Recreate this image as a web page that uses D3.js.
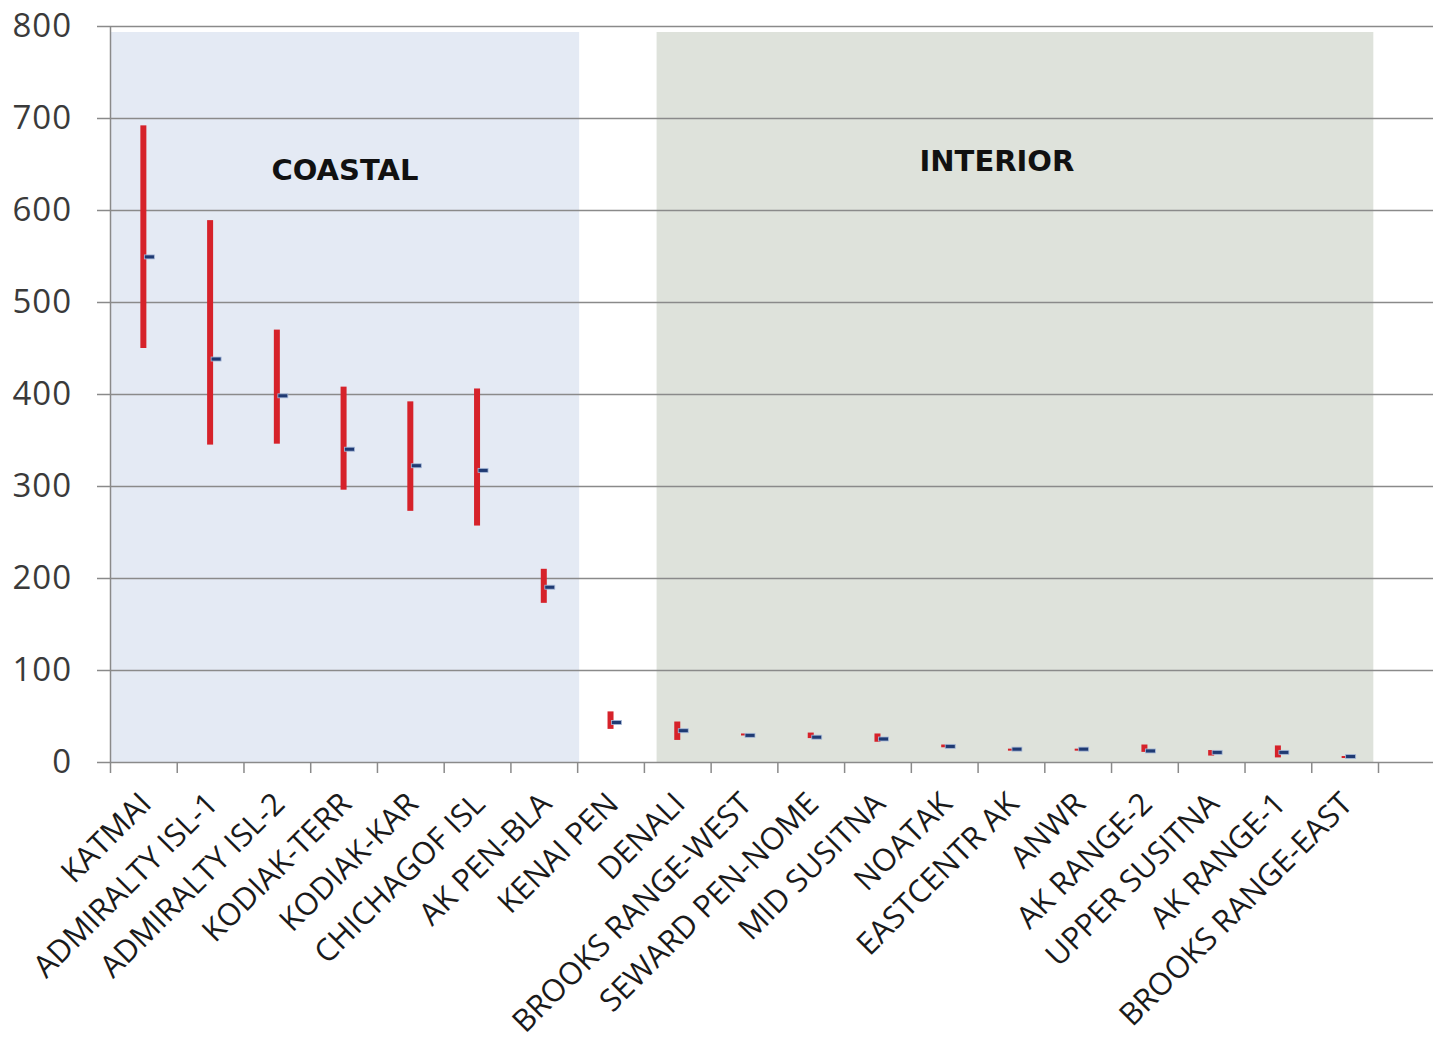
<!DOCTYPE html>
<html>
<head>
<meta charset="utf-8">
<script src="https://cdn.jsdelivr.net/npm/d3@7"></script>
<style>
  html, body { margin: 0; padding: 0; background: #ffffff; }
  svg { display: block; }
</style>
</head>
<body>
<svg id="chart" width="1441" height="1040"></svg>
<script>
// Study areas, ordered from highest to lowest mean
const categories = [
  "KATMAI", "ADMIRALTY ISL-1", "ADMIRALTY ISL-2", "KODIAK-TERR", "KODIAK-KAR",
  "CHICHAGOF ISL", "AK PEN-BLA", "KENAI PEN", "DENALI", "BROOKS RANGE-WEST",
  "SEWARD PEN-NOME", "MID SUSITNA", "NOATAK", "EASTCENTR AK", "ANWR",
  "AK RANGE-2", "UPPER SUSITNA", "AK RANGE-1", "BROOKS RANGE-EAST"
];

// Range (low / high) and mean per area
const lows  = [450, 345, 346, 296, 273, 257, 173, 36, 24, 29, 26, 22, 16, 13.5, 13.5, 11, 7, 5, 5.5];
const highs = [692, 589, 470, 408, 392, 406, 210, 55, 44, 31, 32, 31, 19, 14.5, 14.5, 19, 13, 18, 6.5];
const means = [549, 438, 398, 340, 322, 317, 190, 43, 34, 29, 27, 25, 17, 14, 14, 12, 10.5, 10.5, 6];

// Shaded groupings, spans in category units; label placement in category / value units
const groupNames  = ["COASTAL", "INTERIOR"];
const groupStarts = [0, 8.19];
const groupEnds   = [7.03, 18.93];
const groupLabelX = [3.52, 13.29];
const groupLabelY = [633, 642];

const yTicks = [0, 100, 200, 300, 400, 500, 600, 700, 800];

const svg = d3.select("#chart");

const plotLeft = 110, plotRight = 1378, plotTop = 26, plotBottom = 762;
const gridLeft = 97, gridRight = 1433;

const x = d3.scaleBand().domain(categories).range([plotLeft, plotRight]).padding(0);
const xi = d3.scaleLinear().domain([0, categories.length]).range([plotLeft, plotRight]);
const y = d3.scaleLinear().domain([0, 800]).range([plotBottom, plotTop]);

// Group backgrounds
const groupFills = ["#e4eaf4", "#dee2db"];
svg.append("g").selectAll("rect")
  .data(groupNames)
  .join("rect")
  .attr("x", (d, i) => xi(groupStarts[i]))
  .attr("y", y(793.5))
  .attr("width", (d, i) => xi(groupEnds[i]) - xi(groupStarts[i]))
  .attr("height", y(0) - y(793.5))
  .attr("fill", (d, i) => groupFills[i]);

// Horizontal gridlines
svg.append("g")
  .attr("transform", `translate(${gridLeft},0)`)
  .call(d3.axisRight(y).tickValues(yTicks).tickSize(gridRight - gridLeft).tickFormat(""))
  .call(g => g.select(".domain").remove())
  .call(g => g.selectAll(".tick line").attr("stroke", "#8a8a8a").attr("stroke-width", 1.5));

// Y axis
svg.append("g")
  .attr("transform", `translate(${plotLeft},0)`)
  .call(d3.axisLeft(y).tickValues(yTicks).tickSize(0).tickPadding(38))
  .call(g => g.select(".domain").attr("stroke", "#8a8a8a").attr("stroke-width", 1.5))
  .call(g => g.selectAll(".tick text")
    .attr("font-family", "'Open Sans', sans-serif")
    .attr("font-size", 33)
    .attr("letter-spacing", 1)
    .attr("fill", "#3a3a3a"));

// X axis tick marks at category boundaries
svg.append("g")
  .attr("transform", `translate(0,${plotBottom})`)
  .call(d3.axisBottom(xi).tickValues(d3.range(categories.length + 1)).tickSize(11).tickFormat(""))
  .call(g => g.select(".domain").remove())
  .call(g => g.selectAll(".tick line").attr("stroke", "#8a8a8a").attr("stroke-width", 1.5));

// Category labels, rotated
svg.append("g")
  .attr("transform", `translate(0,${plotBottom})`)
  .call(d3.axisBottom(x).tickSize(0).tickPadding(0))
  .call(g => g.select(".domain").remove())
  .call(g => g.selectAll(".tick text")
    .attr("font-family", "'Open Sans', sans-serif")
    .attr("font-size", 31)
    .attr("fill", "#1a1a1a")
    .attr("text-anchor", "end")
    .attr("dy", "0.35em")
    .attr("transform", "translate(2,36) rotate(-45)"));

// Group labels
svg.append("g").selectAll("text")
  .data(groupNames)
  .join("text")
  .attr("x", (d, i) => xi(groupLabelX[i]))
  .attr("y", (d, i) => y(groupLabelY[i]))
  .attr("text-anchor", "middle")
  .attr("font-family", "'DejaVu Sans', sans-serif")
  .attr("font-weight", "bold")
  .attr("font-size", 29)
  .attr("fill", "#111111")
  .text(d => d);

// High-low range bars
const bw = x.bandwidth();
svg.append("g").selectAll("rect")
  .data(categories)
  .join("rect")
  .attr("x", d => x(d) + bw / 2 - 3)
  .attr("y", (d, i) => y(highs[i]))
  .attr("width", 6)
  .attr("height", (d, i) => Math.max(2, y(lows[i]) - y(highs[i])))
  .attr("fill", "#d6222a");

// Mean markers
svg.append("g").selectAll("rect")
  .data(categories)
  .join("rect")
  .attr("x", d => x(d) + bw / 2 + 1)
  .attr("y", (d, i) => y(means[i]) - 2)
  .attr("width", 10)
  .attr("height", 4)
  .attr("fill", "#1f3a73")
  .attr("stroke", "#a9bbd9")
  .attr("stroke-width", 0.8);
</script>
</body>
</html>
